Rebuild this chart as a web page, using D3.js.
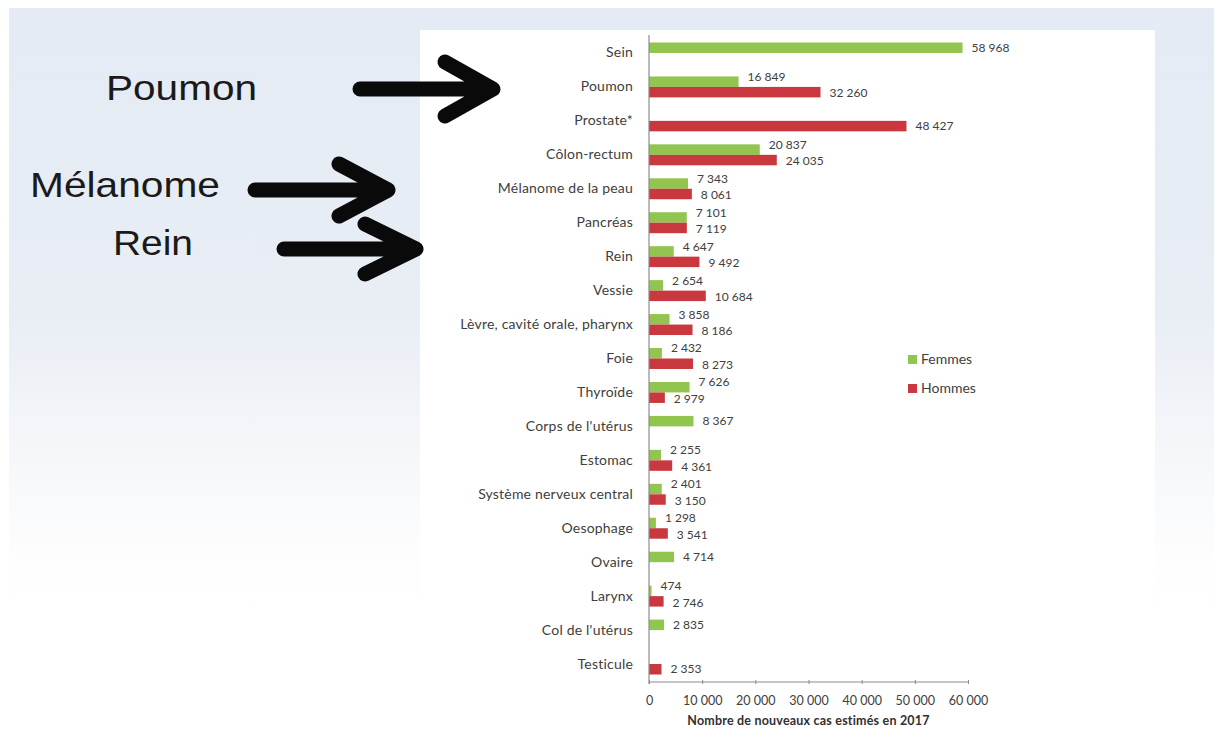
<!DOCTYPE html>
<html><head><meta charset="utf-8">
<script src="https://cdnjs.cloudflare.com/ajax/libs/d3/7.8.5/d3.min.js"></script>
<style>
html,body{margin:0;padding:0;background:#fff;}
svg{display:block;}
</style></head>
<body>
<svg id="chart" width="1214" height="740"></svg>
<script>
const categories = ["Sein","Poumon","Prostate*","Côlon-rectum","Mélanome de la peau","Pancréas","Rein","Vessie","Lèvre, cavité orale, pharynx","Foie","Thyroïde","Corps de l'utérus","Estomac","Système nerveux central","Oesophage","Ovaire","Larynx","Col de l'utérus","Testicule"];
const femmes = [58968,16849,null,20837,7343,7101,4647,2654,3858,2432,7626,8367,2255,2401,1298,4714,474,2835,null];
const hommes = [null,32260,48427,24035,8061,7119,9492,10684,8186,8273,2979,null,4361,3150,3541,null,2746,null,2353];
const seriesNames = ["Femmes","Hommes"];
const seriesColors = ["#92c550","#c9383f"];
const xTicks = [0,10000,20000,30000,40000,50000,60000];
const axisTitle = "Nombre de nouveaux cas estimés en 2017";
const annotations = ["Poumon","Mélanome","Rein"];

const svg = d3.select("#chart");
const defs = svg.append("defs");
const grad = defs.append("linearGradient").attr("id","bg").attr("x1",0).attr("y1",0).attr("x2",0).attr("y2",1);
[[0,"#e4ebf4"],[0.5,"#e9eef5"],[0.72,"#f5f7fa"],[0.9,"#fefefe"],[1,"#ffffff"]].forEach(s=>grad.append("stop").attr("offset",s[0]).attr("stop-color",s[1]));

// slide background
svg.append("rect").attr("x",9).attr("y",8).attr("width",1205).attr("height",620).attr("fill","url(#bg)");
// chart white box
svg.append("rect").attr("x",420).attr("y",30).attr("width",735).attr("height",710).attr("fill","#ffffff");

const locale = d3.formatLocale({decimal:",", thousands:"\u00a0", grouping:[3], currency:["","€"]});
const fmt = locale.format(",d");

const x = d3.scaleLinear().domain([0,60000]).range([649,968]);
const y = d3.scaleBand().domain(categories).range([36,681]);
const sub = d3.scaleBand().domain(seriesNames).range([0,y.bandwidth()]).paddingOuter(0.62);

const font = "Lato, 'Open Sans', sans-serif";
const textCol = "#404040";

const rows = categories.map((c,i)=>({cat:c, vals:[femmes[i],hommes[i]]}));

// bars
const g = svg.append("g");
rows.forEach(r=>{
  const both = r.vals[0]!=null && r.vals[1]!=null;
  r.vals.forEach((v,si)=>{
    if(v==null) return;
    const yy = y(r.cat)+sub(seriesNames[si]);
    g.append("rect").attr("x",x(0)).attr("y",yy).attr("width",x(v)-x(0)).attr("height",sub.bandwidth()).attr("fill",seriesColors[si]);
    let dy = 0;
    if(both) dy = si===0 ? -5 : 1;
    g.append("text").attr("x",x(v)+9).attr("y",yy+sub.bandwidth()/2+dy).attr("dy","0.35em")
      .attr("font-family",font).attr("font-size",12).attr("fill",textCol).text(fmt(v));
  });
});

// y axis
const yAxis = svg.append("g").attr("transform",`translate(${x(0)},0)`)
  .call(d3.axisLeft(y).tickSize(0).tickPadding(16));
yAxis.select(".domain").attr("stroke","#8c8c8c").attr("stroke-width",1.2).attr("d","M0,35V684");
yAxis.selectAll("text").attr("font-family",font).attr("font-size",14).attr("letter-spacing","0.2px").attr("fill",textCol);

// x axis
const xAxis = svg.append("g").attr("transform","translate(0,682)")
  .call(d3.axisBottom(x).tickValues(xTicks).tickFormat(fmt).tickSize(3).tickPadding(11));
xAxis.select(".domain").attr("stroke","#8c8c8c").attr("stroke-width",1.2).attr("d",`M${x(0)},0H${x(60000)}`);
xAxis.selectAll(".tick line").attr("stroke","#8c8c8c").attr("y1",-2).attr("y2",2);
xAxis.selectAll("text").attr("font-family",font).attr("font-size",12.5).attr("fill",textCol);

svg.append("text").attr("x",(x(0)+x(60000))/2+0).attr("y",725).attr("text-anchor","middle")
  .attr("font-family",font).attr("font-weight","bold").attr("font-size",12.5).attr("letter-spacing","0.2px").attr("fill","#303030").text(axisTitle);

// legend
const leg = svg.append("g");
seriesNames.forEach((n,i)=>{
  leg.append("rect").attr("x",908).attr("y",355+i*29).attr("width",9).attr("height",9).attr("fill",seriesColors[i]);
  leg.append("text").attr("x",921).attr("y",359.5+i*29).attr("dy","0.35em").attr("font-family",font).attr("font-size",14).attr("fill",textCol).text(n);
});

// annotations
const big = "'Liberation Sans', Arial, sans-serif";
const annPos = [[106,100,151],[30,197,190],[113,255,80]];
annotations.forEach((t,i)=>{
  svg.append("text").attr("x",annPos[i][0]).attr("y",annPos[i][1]).attr("font-family",big).attr("font-size",35)
    .attr("fill","#1a1a1a").attr("textLength",annPos[i][2]).attr("lengthAdjust","spacingAndGlyphs").text(t);
});
const arrows = [
  {x0:360,x1:493,y:89,hx:445,hh:27},
  {x0:255,x1:388,y:190,hx:339,hh:26},
  {x0:284,x1:416,y:249,hx:365,hh:25}
];
arrows.forEach(a=>{
  svg.append("path").attr("d",`M${a.x0},${a.y}H${a.x1-4}M${a.hx},${a.y-a.hh}L${a.x1},${a.y}L${a.hx},${a.y+a.hh}`)
    .attr("fill","none").attr("stroke","#0a0a0a").attr("stroke-width",15).attr("stroke-linecap","round").attr("stroke-linejoin","round");
});
</script>
</body></html>
